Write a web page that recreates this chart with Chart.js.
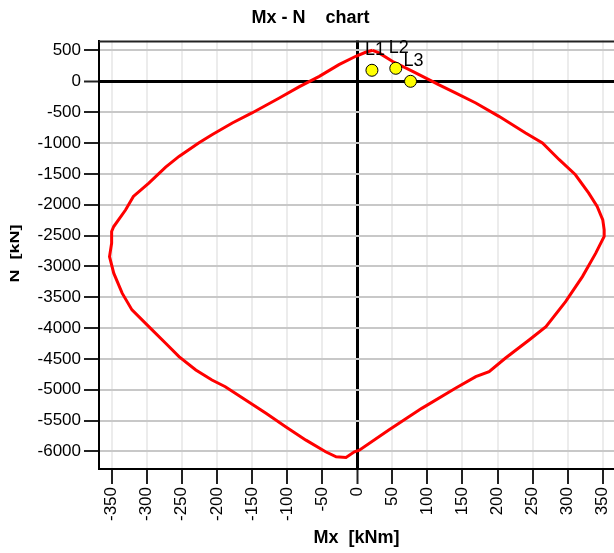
<!DOCTYPE html>
<html>
<head>
<meta charset="utf-8">
<script src="https://cdn.jsdelivr.net/npm/chart.js@4.4.0/dist/chart.umd.min.js"></script>
<style>
  html, body { margin: 0; padding: 0; background: #ffffff; overflow: hidden; }
  #wrap { width: 614px; height: 553px; overflow: hidden; position: relative; }
  #c { position: absolute; left: 0; top: 0; }
</style>
</head>
<body>
<div id="wrap"><canvas id="c" width="621" height="553"></canvas></div>
<script>
// Interaction curve Mx [kNm] / N [kN]
const curveMx = [22, 31, 50, 79, 107, 116, 140, 169, 202, 240, 264, 288, 311, 330, 342, 350, 352, 352, 340, 321, 297, 269, 245, 211, 188, 169, 140, 92, 45, 3, -4, -16, -30, -45, -73, -102, -130, -159, -188, -207, -230, -254, -273, -297, -321, -335, -347, -353, -350, -350, -347, -330, -319, -297, -273, -254, -226, -207, -178, -150, -111, -83, -54, -26, -2, 12, 22];
const curveN = [503, 461, 325, 162, 0, -54, -188, -351, -568, -838, -1000, -1271, -1515, -1812, -2029, -2245, -2407, -2516, -2786, -3166, -3571, -3977, -4193, -4490, -4708, -4789, -4977, -5302, -5654, -5979, -6006, -6097, -6088, -6006, -5817, -5601, -5383, -5167, -4951, -4843, -4680, -4464, -4247, -3977, -3706, -3435, -3110, -2841, -2623, -2435, -2354, -2083, -1867, -1649, -1390, -1218, -1000, -865, -675, -513, -270, -90, 81, 271, 406, 471, 503];

// Load cases
const loadNames = ['L1', 'L2', 'L3'];
const loadMx = [21, 55, 76];
const loadN = [179, 211, 0];

// Tick labels
const xTicks = [-350, -300, -250, -200, -150, -100, -50, 0, 50, 100, 150, 200, 250, 300, 350];
const yTicks = [500, 0, -500, -1000, -1500, -2000, -2500, -3000, -3500, -4000, -4500, -5000, -5500, -6000];

const chartTitle = 'Mx - N    chart';
const xTitle = 'Mx  [kNm]';
const yTitle = 'N  [kN]';

const curvePts = curveMx.map((v, i) => ({ x: v, y: curveN[i] }));
const loadPts = loadMx.map((v, i) => ({ x: v, y: loadN[i], label: loadNames[i] }));

const FONT = "'Liberation Sans', Arial, sans-serif";

const frameAndLabels = {
  id: 'frameAndLabels',
  afterDatasetsDraw(chart) {
    const { ctx, chartArea } = chart;
    ctx.save();
    ctx.strokeStyle = '#222';
    ctx.lineWidth = 2;
    ctx.beginPath();
    ctx.moveTo(chartArea.left, chartArea.top + 1);
    ctx.lineTo(chartArea.right, chartArea.top + 1);
    ctx.stroke();
    const meta = chart.getDatasetMeta(1);
    ctx.fillStyle = '#000';
    ctx.font = "18px " + FONT;
    ctx.textAlign = 'center';
    ctx.textBaseline = 'alphabetic';
    meta.data.forEach((el, i) => {
      ctx.fillText(loadPts[i].label, el.x + 3, el.y - 15);
    });
    // vertical axis title, drawn stretched along its reading direction
    ctx.translate(18.5, 253.5);
    ctx.rotate(-Math.PI / 2);
    ctx.scale(1.5, 1);
    ctx.font = "bold 12px " + FONT;
    ctx.textAlign = 'center';
    ctx.fillText(yTitle, 0, 0);
    ctx.restore();
  }
};

const gridColor = (zeroColor, normal) => (ctx) => (ctx.tick && ctx.tick.value === 0 ? zeroColor : normal);

new Chart(document.getElementById('c'), {
  type: 'scatter',
  data: {
    datasets: [
      {
        data: curvePts,
        showLine: true,
        borderColor: '#ff0000',
        borderWidth: 3,
        pointRadius: 0,
        tension: 0,
        fill: false,
        order: 2
      },
      {
        data: loadPts,
        showLine: false,
        pointRadius: 6,
        pointBackgroundColor: '#ffff00',
        pointBorderColor: '#000000',
        pointBorderWidth: 1,
        order: 1
      }
    ]
  },
  options: {
    responsive: false,
    animation: false,
    layout: { padding: 0 },
    plugins: {
      legend: { display: false },
      tooltip: { enabled: false },
      title: {
        display: true,
        text: chartTitle,
        color: '#000',
        font: { family: FONT, size: 18, weight: 'bold' },
        padding: { top: 7, bottom: 12 }
      }
    },
    scales: {
      x: {
        type: 'linear',
        min: -368,
        max: 366,
        afterBuildTicks: (s) => { s.ticks = xTicks.map(v => ({ value: v })); },
        afterFit: (s) => { s.height = 84; s.paddingLeft = 0; s.paddingRight = 0; },
        ticks: {
          autoSkip: false,
          minRotation: 90,
          maxRotation: 90,
          padding: 3,
          color: '#000',
          font: { family: FONT, size: 17 },
          callback: (v) => String(v)
        },
        grid: {
          color: gridColor('#000000', '#ececec'),
          lineWidth: (ctx) => (ctx.tick && ctx.tick.value === 0 ? 3 : 2),
          tickColor: '#222',
          tickWidth: 2,
          tickLength: 15,
          drawTicks: true
        },
        border: { display: true, color: '#000', width: 2 },
        title: {
          display: true,
          text: xTitle,
          color: '#000',
          font: { family: FONT, size: 18, weight: 'bold' },
          padding: { top: 0, bottom: 4 }
        }
      },
      y: {
        type: 'linear',
        min: -6285,
        max: 660,
        afterBuildTicks: (s) => { s.ticks = yTicks.map(v => ({ value: v })); },
        afterFit: (s) => { s.width = 99; s.paddingTop = 0; s.paddingBottom = 0; },
        ticks: {
          autoSkip: false,
          padding: 3,
          color: '#000',
          font: { family: FONT, size: 17 },
          callback: (v) => String(v)
        },
        grid: {
          color: gridColor('#000000', '#c8c8c8'),
          lineWidth: (ctx) => (ctx.tick && ctx.tick.value === 0 ? 3 : 2),
          tickColor: '#222',
          tickWidth: 2,
          tickLength: 15,
          drawTicks: true
        },
        border: { display: true, color: '#000', width: 2 },
        title: { display: false }
      }
    }
  },
  plugins: [frameAndLabels]
});
</script>
</body>
</html>
